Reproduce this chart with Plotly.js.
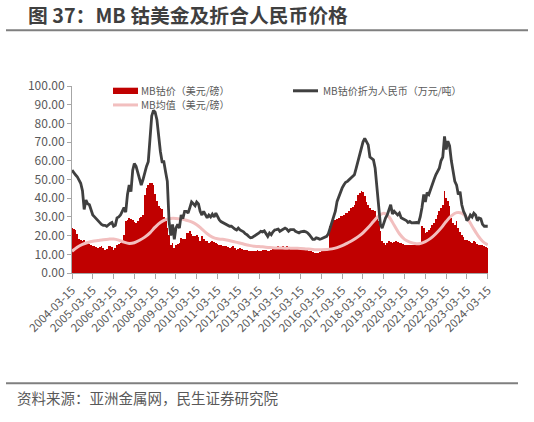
<!DOCTYPE html>
<html><head><meta charset="utf-8">
<script src="https://cdn.plot.ly/plotly-3.0.1.min.js"></script>
<style>html,body{margin:0;padding:0;background:#fff}#chart{width:534px;height:422px}</style>
</head><body><div id="chart"></div><script>
// Monthly series starting 2004-03-15
const startYear = 2004, startMonth = 3;
const xTickLabels = ['2004-03-15','2005-03-15','2006-03-15','2007-03-15','2008-03-15','2009-03-15','2010-03-15','2011-03-15','2012-03-15','2013-03-15','2014-03-15','2015-03-15','2016-03-15','2017-03-15','2018-03-15','2019-03-15','2020-03-15','2021-03-15','2022-03-15','2023-03-15','2024-03-15'];

// MB钴价（美元/磅）, monthly
const mbPriceUSD = [
24,23.5,23,21,18,17.9,17,17.5,16.5,16.1,15.5,15.2,
14.5,14.3,13.8,13.4,14,14.3,13.5,12.5,13,14.3,14.3,14,
12.5,13.5,15.2,15.5,16.1,17,20.5,27.6,28.5,29.4,29,28.5,
27.5,26.8,28,29.4,30,31.2,41.9,45.4,47.2,48,48.1,47,
42,38.3,36,34.8,34,30,27.6,24,20.5,15.2,16,13.5,
15.2,15.5,16.1,18.8,18,18,21.4,21.5,22.3,21,19.6,19.8,
20.5,19,17,19.6,18,17,17,16.1,16.5,17,16.5,16.1,
15.5,15.2,14.8,14.3,14.3,14.3,13.8,13.4,14,14.3,13.5,12.5,
13,13.4,12.8,12.5,12.5,12.3,12,11.6,11.8,11.6,12,12.5,
12,11.6,12.3,12.5,12.5,12,11.6,12.5,13,13.4,13.5,14.3,
13.8,14,14.3,13.8,14.3,14,13.5,13.4,13.8,13.4,13,13.4,
13.4,12.8,13,12.5,12.5,12,11.6,11,10.5,10.5,10.8,11,
11.6,12,12.5,13,13.4,25,27.6,28.5,28.5,29,29.4,30.3,
30.5,31,32,32.1,33,34.8,35.5,36.5,38.5,41.9,43,43.6,
43.5,41,38,36.5,34.5,33.9,33.9,33,30,27.6,22.3,17,
16,15.2,16,17,16.5,16.1,16.5,17,16.5,16.1,16,15.5,
15.2,15.2,15,15.2,15,15.2,15.2,15.5,16.1,16.1,25,24,
21.4,22,23,24,25.5,26.8,29,31.2,33,34.8,36.5,43.6,
40,38.3,36,29.4,27,25.9,27.6,24,22,20.5,19,17.9,
17.5,17,16.5,16.1,17,16.5,15.5,15.2,15.2,14.8,14.3,13.8,
13.4];

// MB钴价折为人民币（万元/吨）, monthly
const mbPriceRMB = [
55,53.5,52.5,51.5,50,48,44,34,39,37,36.5,33,
31,30,29,28,27,26,25.5,25.5,25,26,26.5,27,
25,25.5,29.5,30,31,33,35,32.5,42,47,43.5,55,
58.5,57,54,50,47,50,54,57,59.5,72,84,87,
86,82,72,65,59.5,59.5,54,49,27.5,20,26,18,
24,26,24,31,29,33,33,32,35,38,37,36,
38,37,33,31,33,31,29.5,31,30,31.5,30,32,
30,28.5,27.5,27,26.8,26,25.5,25,25,24,23.5,23,
24,23,22.5,22,21,20.5,19.5,18.8,19,19.6,20,20.5,
21.5,22.3,22,22.5,21,19.6,21.4,20.5,22,23,23.2,23.5,
22.3,23,23.2,24,23.5,22.3,23.2,23,23.2,22.3,22,21.4,
22,22.3,22.3,22,21.5,20.5,19.5,18,18,18.8,18.5,18,
18.3,18.8,19,19.6,21,24,27,29.4,33,38.3,41,43.6,
45.5,47.2,48.5,49,50,50.8,51.5,52.5,56,59.6,63,66.8,
70,72,70.5,68.5,62,61,60.5,56,47,35,26,24,
27,29.4,31,34,36.5,31.5,33,32,31,32,29.5,29,
28.5,28,27,27.6,26.8,27,26.8,27,26.8,30,35,42,
38,43,42,45,47,50,52.5,54,56,60,62,73,
66,70.5,68,60,54,49,47,42,43.5,36.5,33,31,
28,29,31,30,32,31,28,29.4,29,26,25,25,
25];

// MB均值（美元/磅）, quarterly
const mbMeanUSD = [
11.6,13.8,15.3,16.3,17,17.4,17.8,18.1,18.2,17.6,16.5,15.8,
16.2,17.5,19.2,21.5,24.5,27,28.5,29.2,29.2,28.8,28.2,27.3,
25.8,23.5,21,19.2,18.3,18,17.5,16.8,16.2,15.5,14.8,14.3,
14.2,13.9,13.6,13.4,13.4,13.3,13.3,13.2,13.1,12.9,12.7,12.5,
12.5,12.6,12.9,13.6,14.6,16,17.5,19.3,21.5,24.3,27.5,30.5,
32,30,25.5,21,18,16.5,15.8,15.8,16.8,18.5,21,24,
27.5,30.5,32.3,32,29.5,25,20.5,17,15];

const seriesNames = ['MB钴价（美元/磅）','MB钴价折为人民币（万元/吨）','MB均值（美元/磅）'];

function monthDate(m){
  const total = startMonth - 1 + m;
  const y = startYear + Math.floor(total/12);
  const mo = total % 12 + 1;
  return y + '-' + String(mo).padStart(2,'0') + '-15';
}
const xMonthly = mbPriceUSD.map((_, i) => monthDate(i));
const xQuarterly = mbMeanUSD.map((_, i) => monthDate(i*3));

const FONT = '"Noto Sans CJK SC", "Noto Sans", sans-serif';
// pixel -> paper helpers (plot area: x 72..488, y 86..273.5)
const L = 72, R = 488, T = 86, B = 273.5;
const px = x => (x - L) / (R - L);
const py = y => (B - y) / (B - T);

const traces = [
  {type:'bar', name: seriesNames[0], x: xMonthly, y: mbPriceUSD,
   marker:{color:'#c00000', line:{width:0}}, width: 31*86400000, showlegend:false, hoverinfo:'skip'},
  {type:'scatter', mode:'lines', name: seriesNames[2], x: xQuarterly, y: mbMeanUSD,
   line:{color:'#f2bfbf', width:3, shape:'spline'}, showlegend:false, hoverinfo:'skip'},
  {type:'scatter', mode:'lines', name: seriesNames[1], x: xMonthly, y: mbPriceRMB,
   line:{color:'#404040', width:2.8}, showlegend:false, hoverinfo:'skip'}
];

const grey = '#595959';
const layout = {
  width:534, height:422,
  margin:{l:L, r:534-R, t:T, b:422-B},
  paper_bgcolor:'#fff', plot_bgcolor:'#fff',
  showlegend:false, bargap:0,
  font:{family:FONT, color:grey},
  xaxis:{type:'date', range:['2004-03-15','2024-03-20'],
    tickmode:'array', tickvals:xTickLabels, ticktext:xTickLabels, tickangle:-45,
    ticks:'outside', ticklen:5, tickcolor:'#a6a6a6', showline:true, linecolor:'#a6a6a6', linewidth:1,
    showgrid:false, zeroline:false, tickfont:{size:11.5, color:grey, family:FONT}},
  yaxis:{range:[0,100], tick0:0, dtick:10, tickformat:'.2f',
    ticks:'outside', ticklen:4, tickcolor:'#a6a6a6', showline:true, linecolor:'#a6a6a6', linewidth:1,
    showgrid:false, zeroline:false, tickfont:{size:12, color:grey, family:FONT}},
  shapes:[
    {type:'line', xref:'paper', yref:'paper', x0:px(6), x1:px(528), y0:py(30), y1:py(30), line:{color:'#7f7f7f', width:2}},
    {type:'line', xref:'paper', yref:'paper', x0:px(6), x1:px(518), y0:py(384), y1:py(384), line:{color:'#7f7f7f', width:2}},
    {type:'rect', xref:'paper', yref:'paper', x0:px(113), x1:px(138), y0:py(94), y1:py(87.7), fillcolor:'#c00000', line:{width:0}},
    {type:'line', xref:'paper', yref:'paper', x0:px(293), x1:px(318), y0:py(90.8), y1:py(90.8), line:{color:'#404040', width:3}},
    {type:'line', xref:'paper', yref:'paper', x0:px(113), x1:px(138), y0:py(105), y1:py(105), line:{color:'#f2bfbf', width:3}}
  ],
  annotations:[
    {text:'<b>图 37：MB 钴美金及折合人民币价格</b>', xref:'paper', yref:'paper', x:px(26), y:py(14), xanchor:'left', yanchor:'middle', showarrow:false, font:{size:19.8, color:'#3f3f3f', family:FONT}},
    {text:'资料来源：亚洲金属网，民生证券研究院', xref:'paper', yref:'paper', x:px(15), y:py(398), xanchor:'left', yanchor:'middle', showarrow:false, font:{size:14.5, color:grey, family:FONT}},
    {text:seriesNames[0], xref:'paper', yref:'paper', x:px(139), y:py(91), xanchor:'left', yanchor:'middle', showarrow:false, font:{size:10, color:grey, family:FONT}},
    {text:seriesNames[1], xref:'paper', yref:'paper', x:px(321), y:py(91), xanchor:'left', yanchor:'middle', showarrow:false, font:{size:10, color:grey, family:FONT}},
    {text:seriesNames[2], xref:'paper', yref:'paper', x:px(139), y:py(105), xanchor:'left', yanchor:'middle', showarrow:false, font:{size:10, color:grey, family:FONT}}
  ]
};

Plotly.newPlot('chart', traces, layout, {staticPlot:true, displayModeBar:false});
</script></body></html>
